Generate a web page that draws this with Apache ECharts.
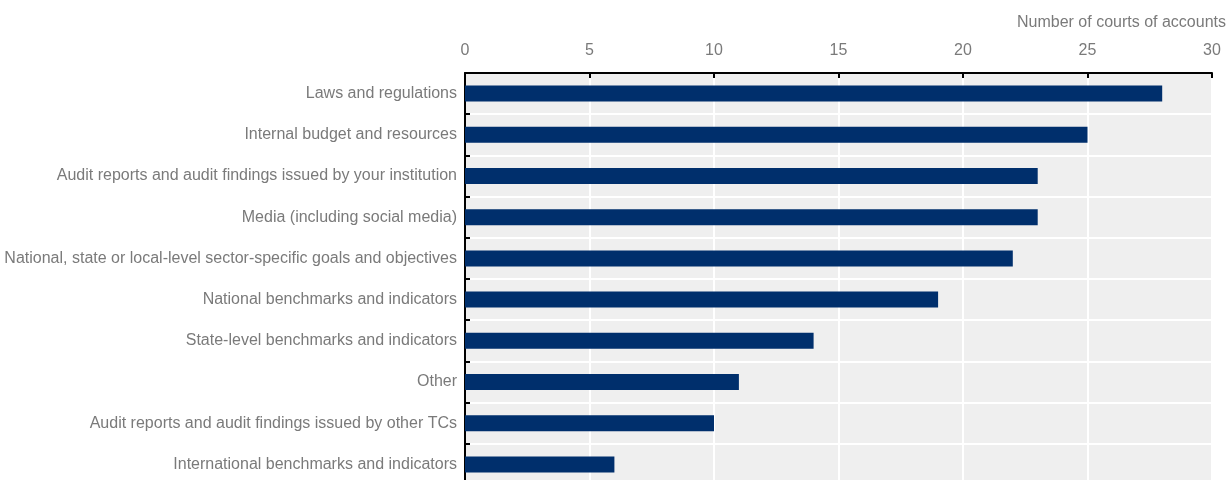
<!DOCTYPE html>
<html>
<head>
<meta charset="utf-8">
<script src="https://cdn.jsdelivr.net/npm/echarts@6/dist/echarts.min.js"></script>
<style>
  html, body { margin: 0; padding: 0; background: #fff; }
  #chart { width: 1226px; height: 480px; }
</style>
</head>
<body>
<div id="chart"></div>
<script>
// categories, top to bottom
var categories = [
  'Laws and regulations',
  'Internal budget and resources',
  'Audit reports and audit findings issued by your institution',
  'Media (including social media)',
  'National, state or local-level sector-specific goals and objectives',
  'National benchmarks and indicators',
  'State-level benchmarks and indicators',
  'Other',
  'Audit reports and audit findings issued by other TCs',
  'International benchmarks and indicators'
];
var counts = [28, 25, 23, 23, 22, 19, 14, 11, 10, 6];
var axisTitle = 'Number of courts of accounts';

var chart = echarts.init(document.getElementById('chart'));
var labelFont = '"Liberation Sans", Arial, sans-serif';

chart.setOption({
  animation: false,
  title: {
    text: axisTitle,
    right: 0,
    top: 15,
    padding: 0,
    textStyle: {
      color: '#7a7a7a',
      fontFamily: labelFont,
      fontSize: 16,
      fontWeight: 'normal'
    }
  },
  grid: {
    left: 465,
    top: 73,
    width: 747,
    height: 412,
    outerBoundsMode: 'none',
    show: true,
    backgroundColor: '#efefef',
    borderWidth: 0
  },
  xAxis: {
    type: 'value',
    position: 'top',
    min: 0,
    max: 30,
    interval: 5,
    axisLine: { show: true, lineStyle: { color: '#000', width: 2 } },
    axisTick: { show: true, inside: true, length: 5, lineStyle: { color: '#000', width: 2 } },
    axisLabel: { color: '#7a7a7a', fontFamily: labelFont, fontSize: 16, margin: 14 },
    splitLine: { show: true, lineStyle: { color: '#fff', width: 2 } }
  },
  yAxis: {
    type: 'category',
    data: categories,
    inverse: true,
    axisLine: { show: true, lineStyle: { color: '#000', width: 2 } },
    axisTick: { show: true, inside: true, length: 5, lineStyle: { color: '#000', width: 2 } },
    axisLabel: { color: '#7a7a7a', fontFamily: labelFont, fontSize: 16, margin: 8, padding: [3, 0, 0, 0] },
    splitLine: { show: true, lineStyle: { color: '#fff', width: 2 } }
  },
  series: [{
    type: 'bar',
    data: counts,
    barWidth: 16,
    itemStyle: { color: '#002f6c' }
  }]
});
</script>
</body>
</html>
